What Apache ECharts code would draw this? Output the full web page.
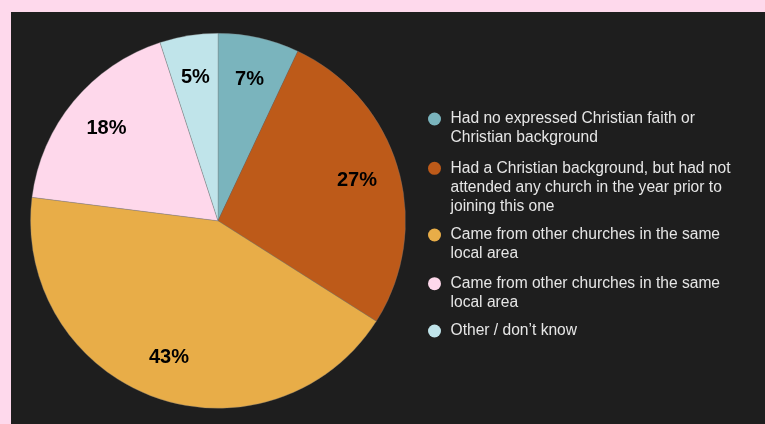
<!DOCTYPE html>
<html>
<head>
<meta charset="utf-8">
<script src="https://cdn.jsdelivr.net/npm/echarts@6/dist/echarts.min.js"></script>
<style>
  html, body { margin: 0; padding: 0; background: #fed9ec; }
  #chart { width: 765px; height: 424px; }
</style>
</head>
<body>
<div id="chart"></div>
<script>
// Where new members came from (share of respondents, %)
const categories = [
  'Had no expressed Christian faith or\nChristian background',
  'Had a Christian background, but had not\nattended any church in the year prior to\njoining this one',
  'Came from other churches in the same\nlocal area',
  'Came from other churches in the same\nlocal area ',
  'Other / don\u2019t know'
];
const shares = [7, 27, 43, 18, 5];
const sliceColors = ['#7ab4bd', '#bd5a19', '#e8ad48', '#fed8eb', '#c0e4ea'];

// Vertical centre of each legend marker (first text line)
const legendMarkerY = [119, 168.3, 235, 283.7, 331];
const LINE_H = 19;

const pieData = categories.map((name, i) => ({
  name: name,
  value: shares[i],
  itemStyle: { color: sliceColors[i] }
}));

const center = [218, 220.8];
const R = 187.5;

// One legend block per entry so the marker lines up with the first text line
const legends = categories.map((name, i) => {
  const n = name.split('\n').length;
  return {
    data: [name],
    orient: 'vertical',
    left: 428,
    top: legendMarkerY[i] - (2 * n - 1) * LINE_H / 2,
    padding: 0,
    icon: 'circle',
    itemWidth: 22,
    itemHeight: 13,
    itemStyle: { borderWidth: 0 },
    selectedMode: false,
    formatter: (nm) => '\n'.repeat(n - 1) + nm,
    textStyle: {
      color: '#e6e6e6',
      fontSize: 15.6,
      lineHeight: LINE_H,
      fontFamily: '"Liberation Sans", Arial, sans-serif'
    }
  };
});

const chart = echarts.init(document.getElementById('chart'), null, { renderer: 'canvas' });
chart.setOption({
  animation: false,
  backgroundColor: '#fed9ec',
  graphic: [{
    type: 'rect',
    silent: true,
    z: -10,
    shape: { x: 11, y: 12, width: 754, height: 412 },
    style: { fill: '#1e1e1e' }
  }],
  legend: legends,
  series: [
    {
      type: 'pie',
      center: center,
      radius: [0, R],
      startAngle: 90,
      clockwise: true,
      silent: true,
      label: { show: false },
      labelLine: { show: false },
      itemStyle: { borderColor: 'rgba(120,120,120,0.55)', borderWidth: 0.6 },
      data: pieData
    },
    {
      // label ring: places the percentage text at ~3/4 of the radius
      type: 'pie',
      center: center,
      radius: [96, R],
      startAngle: 90,
      clockwise: true,
      silent: true,
      itemStyle: { color: 'transparent', borderWidth: 0 },
      emphasis: { disabled: true },
      labelLine: { show: false },
      label: {
        show: true,
        position: 'inside',
        formatter: '{c}%',
        color: '#000',
        fontSize: 20,
        fontWeight: 'bold',
        fontFamily: '"Liberation Sans", Arial, sans-serif'
      },
      data: categories.map((name, i) => ({ name: name, value: shares[i] }))
    }
  ]
});
</script>
</body>
</html>
